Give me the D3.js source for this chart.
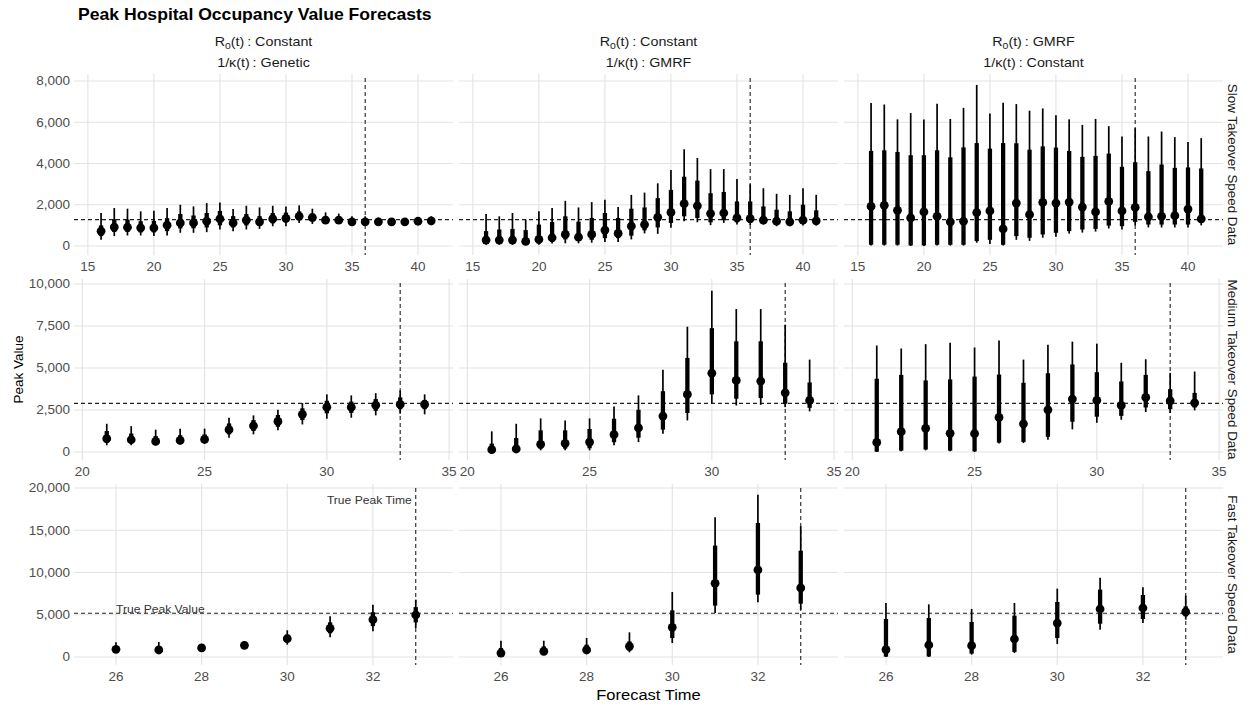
<!DOCTYPE html>
<html>
<head>
<meta charset="utf-8">
<script src="https://cdn.jsdelivr.net/npm/d3@7"></script>
<style>
  html, body { margin: 0; padding: 0; background: #ffffff; }
  svg { display: block; font-family: "Liberation Sans", Arial, Helvetica, sans-serif; }
</style>
</head>
<body>
<svg id="chart" width="1249" height="706"></svg>
<script>
// ---- Facet labels -------------------------------------------------------
const columnR0 = ["Constant", "Constant", "GMRF"];
const columnKappa = ["Genetic", "GMRF", "Constant"];
const rowLabels = ["Slow Takeover Speed Data", "Medium Takeover Speed Data", "Fast Takeover Speed Data"];

// ---- Axis ticks per row -------------------------------------------------
const xTicksSlow = [15, 20, 25, 30, 35, 40];
const xTicksMedium = [20, 25, 30, 35];
const xTicksFast = [26, 28, 30, 32];
const yTicksSlow = [0, 2000, 4000, 6000, 8000];
const yTicksMedium = [0, 2500, 5000, 7500, 10000];
const yTicksFast = [0, 5000, 10000, 15000, 20000];

// ---- Reference values (true peak) per row -------------------------------
const truePeakTime = [36, 33, 33];
const truePeakValue = [1280, 2897, 5172];

// ---- Forecasts: [forecast time, lower 95%, lower 66%, median, upper 66%, upper 95%]
const slowGenetic = [
  [16, 300, 480, 720, 1000, 1600], [17, 480, 680, 920, 1300, 1840],
  [18, 510, 680, 910, 1280, 1810], [19, 510, 660, 880, 1200, 1680],
  [20, 480, 660, 880, 1220, 1710], [21, 510, 720, 1010, 1350, 1840],
  [22, 640, 850, 1120, 1550, 2000], [23, 640, 860, 1120, 1480, 1920],
  [24, 670, 900, 1200, 1600, 2080], [25, 800, 1000, 1310, 1700, 2110],
  [26, 720, 900, 1120, 1450, 1790], [27, 800, 1000, 1250, 1550, 1950],
  [28, 830, 980, 1170, 1450, 1870], [29, 960, 1100, 1310, 1600, 1950],
  [30, 960, 1150, 1340, 1620, 1920], [31, 1120, 1280, 1440, 1680, 1970],
  [32, 1070, 1220, 1380, 1580, 1810], [33, 1070, 1150, 1250, 1420, 1630],
  [34, 1090, 1160, 1250, 1380, 1570], [35, 990, 1080, 1170, 1280, 1440],
  [36, 990, 1080, 1170, 1270, 1440], [37, 1000, 1090, 1170, 1260, 1380],
  [38, 1040, 1100, 1170, 1240, 1330], [39, 1040, 1100, 1170, 1240, 1330],
  [40, 1040, 1120, 1200, 1270, 1380], [41, 1010, 1120, 1220, 1300, 1440]
];
const slowGMRF = [
  [16, 60, 100, 290, 720, 1550], [17, 60, 100, 290, 800, 1440],
  [18, 60, 100, 290, 830, 1600], [19, 40, 80, 220, 770, 1280],
  [20, 60, 120, 320, 1040, 1680], [21, 120, 200, 400, 1170, 1840],
  [22, 130, 320, 560, 1440, 2190], [23, 130, 250, 430, 1180, 1870],
  [24, 160, 300, 560, 1360, 2130], [25, 190, 380, 770, 1600, 2240],
  [26, 190, 380, 610, 1360, 1890], [27, 320, 500, 960, 1810, 2480],
  [28, 610, 760, 1040, 1870, 2590], [29, 590, 900, 1390, 2320, 3040],
  [30, 880, 1120, 1630, 2720, 3680], [31, 1200, 1440, 2050, 3360, 4690],
  [32, 1150, 1360, 1950, 3170, 4270], [33, 1010, 1150, 1570, 2560, 3730],
  [34, 1120, 1250, 1600, 2620, 3730], [35, 1040, 1150, 1360, 2160, 3250],
  [36, 1010, 1120, 1330, 2160, 2990], [37, 1040, 1120, 1250, 1920, 2800],
  [38, 960, 1060, 1200, 1760, 2530], [39, 960, 1060, 1170, 1680, 2480],
  [40, 990, 1100, 1250, 2000, 2800], [41, 990, 1090, 1220, 1730, 2480]
];
const slowConstant = [
  [16, 20, 60, 1920, 4610, 6930], [17, 20, 60, 1970, 4640, 6860],
  [18, 20, 60, 1730, 4560, 6140], [19, 0, 30, 1360, 4400, 6450],
  [20, 0, 30, 1650, 4400, 6130], [21, 20, 60, 1440, 4640, 6900],
  [22, 20, 60, 1170, 4300, 6160], [23, 20, 60, 1200, 4780, 6700],
  [24, 160, 240, 1620, 4990, 7810], [25, 100, 300, 1700, 4720, 6420],
  [26, 20, 60, 830, 4990, 6940], [27, 300, 480, 2080, 4980, 6880],
  [28, 250, 400, 1520, 4670, 6560], [29, 400, 560, 2110, 4830, 6670],
  [30, 450, 640, 2080, 4770, 6340], [31, 600, 720, 2130, 4610, 6140],
  [32, 650, 800, 1890, 4320, 5870], [33, 700, 830, 1650, 4370, 6160],
  [34, 850, 990, 2160, 4480, 5810], [35, 800, 960, 1700, 3840, 5310],
  [36, 1000, 1170, 1870, 4060, 5710], [37, 900, 1040, 1410, 3630, 5310],
  [38, 900, 1040, 1440, 3950, 5550], [39, 900, 1040, 1470, 3790, 5280],
  [40, 900, 1040, 1790, 3810, 5040], [41, 1000, 1120, 1310, 3760, 5230]
];
const mediumGenetic = [
  [21, 400, 550, 790, 1250, 1680], [22, 400, 530, 730, 1100, 1540],
  [23, 400, 500, 630, 950, 1330], [24, 440, 540, 690, 1000, 1390],
  [25, 480, 580, 750, 1050, 1390], [26, 850, 1050, 1330, 1700, 2040],
  [27, 1050, 1250, 1560, 1900, 2180], [28, 1290, 1500, 1820, 2200, 2510],
  [29, 1640, 1900, 2240, 2600, 2910], [30, 1980, 2300, 2670, 3050, 3430],
  [31, 2040, 2330, 2670, 3000, 3370], [32, 2180, 2450, 2790, 3150, 3500],
  [33, 2280, 2550, 2830, 3250, 3660], [34, 2240, 2550, 2830, 3100, 3430]
];
const mediumGMRF = [
  [21, 0, 40, 140, 500, 1230], [22, 0, 60, 180, 830, 1680],
  [23, 100, 200, 460, 1290, 2000], [24, 100, 200, 510, 1290, 1880],
  [25, 100, 220, 590, 1370, 2000], [26, 400, 580, 1030, 1980, 2710],
  [27, 590, 850, 1430, 2510, 3370], [28, 1090, 1330, 2140, 3620, 4890],
  [29, 1880, 2320, 3430, 5600, 7460], [30, 2910, 3430, 4690, 7370, 9600],
  [31, 2770, 3170, 4260, 6590, 8510], [32, 2810, 3210, 4220, 6590, 8510],
  [33, 2670, 2870, 3520, 5310, 7580], [34, 2420, 2630, 3070, 4140, 5500]
];
const mediumConstant = [
  [21, 0, 20, 570, 4360, 6340], [22, 40, 80, 1210, 4590, 6160],
  [23, 100, 150, 1410, 4260, 6420], [24, 40, 80, 1110, 4320, 6510],
  [25, 0, 40, 1090, 4490, 6220], [26, 500, 560, 2060, 4610, 6630],
  [27, 530, 600, 1680, 4120, 5500], [28, 730, 900, 2510, 4690, 6380],
  [29, 1350, 1800, 3150, 5210, 6570], [30, 1740, 2100, 3070, 4750, 6450],
  [31, 1920, 2150, 2770, 4200, 5310], [32, 2380, 2650, 3250, 4590, 5520],
  [33, 2320, 2550, 3050, 3740, 4710], [34, 2480, 2650, 2930, 3520, 4790]
];
const fastGenetic = [
  [26, 470, 650, 910, 1250, 1740], [27, 470, 620, 830, 1200, 1780],
  [28, 670, 820, 1070, 1280, 1460], [29, 950, 1120, 1380, 1600, 1850],
  [30, 1460, 1750, 2170, 2650, 3160], [31, 2330, 2800, 3390, 4100, 4810],
  [32, 3040, 3650, 4420, 5300, 6190], [33, 3430, 4100, 4970, 5900, 6790]
];
const fastGMRF = [
  [26, 80, 200, 470, 1070, 1930], [27, 280, 400, 670, 1260, 1930],
  [28, 390, 520, 830, 1460, 2250], [29, 550, 750, 1260, 1850, 2920],
  [30, 1660, 2250, 3510, 5520, 7690], [31, 5210, 6080, 8720, 13180, 16530],
  [32, 6470, 7380, 10300, 15860, 19210], [33, 5600, 6310, 8170, 12580, 15460]
];
const fastConstant = [
  [26, 0, 40, 870, 4500, 6390], [27, 0, 60, 1420, 4620, 6230],
  [28, 280, 400, 1340, 4140, 5680], [29, 470, 600, 2130, 4890, 6390],
  [30, 1540, 2250, 4020, 6510, 8090], [31, 3230, 3940, 5680, 7970, 9390],
  [32, 4020, 4500, 5800, 7340, 8240], [33, 4420, 4810, 5330, 6000, 7260]
];

const panelData = [
  [slowGenetic, slowGMRF, slowConstant],
  [mediumGenetic, mediumGMRF, mediumConstant],
  [fastGenetic, fastGMRF, fastConstant]
];
const xTicksByRow = [xTicksSlow, xTicksMedium, xTicksFast];
const yTicksByRow = [yTicksSlow, yTicksMedium, yTicksFast];

// ---- Layout ---------------------------------------------------------------
const panelLeft = [74, 459, 844];
const panelTop = [74, 279, 484];
const panelW = 379, panelH = 181;
const xDomainByRow = [[13.95, 42.65], [19.66, 35.16], [25.02, 33.87]];
const yDomainByRow = [[-436, 8339], [-476, 10298], [-947, 20473]];

const gridColor = "#e3e3e3";
const tickColor = "#4d4d4d";
const textColor = "#1a1a1a";
const wide = 1.1;            // horizontal text is set slightly wide
const fmt = d3.format(",");

const svg = d3.select("#chart");

// horizontal text helper: positioned by transform so it can be widened
function htext(parent, x, y, size, anchor, content) {
  return parent.append("text")
    .attr("transform", `translate(${x},${y}) scale(${wide},1)`)
    .attr("text-anchor", anchor).attr("font-size", size)
    .text(content);
}

// title
htext(svg, 78, 20, 16, "start", "Peak Hospital Occupancy Value Forecasts")
  .attr("font-weight", "bold").attr("fill", "#000");

// column strips (parsed-style labels)
columnR0.forEach((lab, c) => {
  const cx = panelLeft[c] + panelW / 2;
  const t1 = htext(svg, cx, 46, 13, "middle", null).attr("fill", textColor);
  t1.append("tspan").text("R");
  t1.append("tspan").attr("font-size", 9.5).attr("dy", 3).text("0");
  t1.append("tspan").attr("dy", -3).text("(t)\u2009: " + lab);
  htext(svg, cx, 67, 13, "middle", "1/\u03ba(t)\u2009: " + columnKappa[c]).attr("fill", textColor);
});

// row strips
rowLabels.forEach((lab, r) => {
  const cy = panelTop[r] + panelH / 2;
  svg.append("text")
    .attr("transform", `translate(1228,${cy}) rotate(90)`)
    .attr("text-anchor", "middle").attr("font-size", 13.4).attr("fill", textColor)
    .text(lab);
});

// axis titles
svg.append("text")
  .attr("transform", `translate(23,${(panelTop[0] + panelTop[2] + panelH) / 2}) rotate(-90)`)
  .attr("text-anchor", "middle").attr("font-size", 13.5).attr("fill", "#000")
  .text("Peak Value");
htext(svg, (panelLeft[0] + panelLeft[2] + panelW) / 2, 700, 15, "middle", "Forecast Time")
  .attr("fill", "#000");

// panels
for (let r = 0; r < 3; r++) {
  for (let c = 0; c < 3; c++) {
    const x0 = panelLeft[c], y0 = panelTop[r];
    const x = d3.scaleLinear().domain(xDomainByRow[r]).range([x0, x0 + panelW]);
    const y = d3.scaleLinear().domain(yDomainByRow[r]).range([y0 + panelH, y0]);
    const g = svg.append("g");

    // grid
    g.selectAll(".gy").data(yTicksByRow[r]).join("line")
      .attr("x1", x0).attr("x2", x0 + panelW)
      .attr("y1", d => y(d)).attr("y2", d => y(d))
      .attr("stroke", gridColor).attr("stroke-width", 1.1);
    g.selectAll(".gx").data(xTicksByRow[r]).join("line")
      .attr("x1", d => x(d)).attr("x2", d => x(d))
      .attr("y1", y0).attr("y2", y0 + panelH)
      .attr("stroke", gridColor).attr("stroke-width", 1.1);

    // x tick labels
    g.selectAll(".xl").data(xTicksByRow[r]).join("text")
      .attr("transform", d => `translate(${x(d)},${y0 + panelH + 16}) scale(${wide},1)`)
      .attr("text-anchor", "middle").attr("font-size", 12.3).attr("fill", tickColor)
      .text(d => d);

    // y tick labels on the first column
    if (c === 0) {
      g.selectAll(".yl").data(yTicksByRow[r]).join("text")
        .attr("transform", d => `translate(${x0 - 4},${y(d)}) scale(${wide},1)`)
        .attr("dy", "0.35em")
        .attr("text-anchor", "end").attr("font-size", 12.3).attr("fill", tickColor)
        .text(d => fmt(d));
    }

    // reference lines
    g.append("line")
      .attr("x1", x0).attr("x2", x0 + panelW)
      .attr("y1", y(truePeakValue[r])).attr("y2", y(truePeakValue[r]))
      .attr("stroke", "#222").attr("stroke-width", 1.1).attr("stroke-dasharray", "4,3");
    g.append("line")
      .attr("x1", x(truePeakTime[r])).attr("x2", x(truePeakTime[r]))
      .attr("y1", y0 + 4).attr("y2", y0 + panelH)
      .attr("stroke", "#222").attr("stroke-width", 1.1).attr("stroke-dasharray", "4,3");

    // point intervals
    const data = panelData[r][c];
    g.selectAll(".thin").data(data).join("line")
      .attr("x1", d => x(d[0])).attr("x2", d => x(d[0]))
      .attr("y1", d => y(d[1])).attr("y2", d => y(d[5]))
      .attr("stroke", "#000").attr("stroke-width", 1.7);
    g.selectAll(".thick").data(data).join("line")
      .attr("x1", d => x(d[0])).attr("x2", d => x(d[0]))
      .attr("y1", d => y(d[2])).attr("y2", d => y(d[4]))
      .attr("stroke", "#000").attr("stroke-width", 4.3);
    g.selectAll(".pt").data(data).join("circle")
      .attr("cx", d => x(d[0])).attr("cy", d => y(d[3]))
      .attr("r", 4.4).attr("fill", "#000");

    // annotations in the first fast panel
    if (r === 2 && c === 0) {
      htext(g, x(truePeakTime[r]) - 4, y0 + 20, 11, "end", "True Peak Time").attr("fill", "#333");
      htext(g, x(26), y(truePeakValue[r]) - 0.5, 11, "start", "True Peak Value").attr("fill", "#333");
    }
  }
}
</script>
</body>
</html>
